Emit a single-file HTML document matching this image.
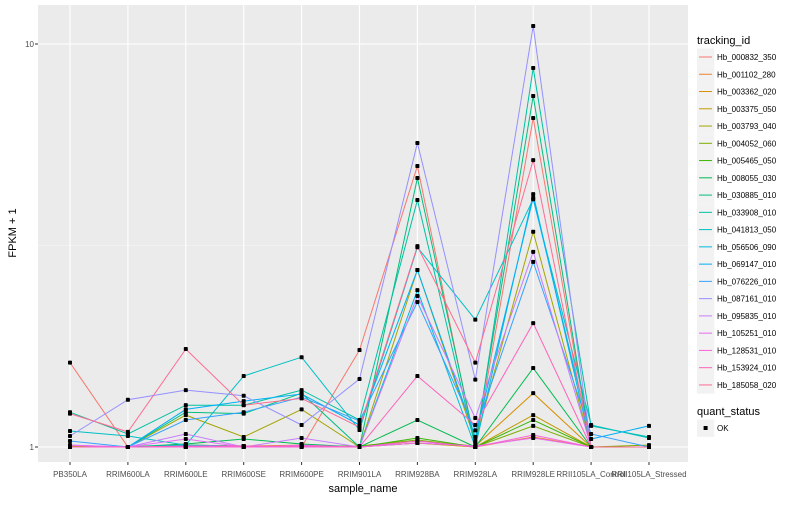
<!DOCTYPE html>
<html><head><meta charset="utf-8"><style>
body{margin:0;background:#fff;font-family:"Liberation Sans",sans-serif}
svg text{font-family:"Liberation Sans",sans-serif}
</style></head><body>
<svg id="chart" width="800" height="500" viewBox="0 0 800 500"></svg>
<script>
const categories=["PB350LA","RRIM600LA","RRIM600LE","RRIM600SE","RRIM600PE","RRIM901LA","RRIM928BA","RRIM928LA","RRIM928LE","RRII105LA_Control","RRII105LA_Stressed"];
const seriesNames=["Hb_000832_350","Hb_001102_280","Hb_003362_020","Hb_003375_050","Hb_003793_040","Hb_004052_060","Hb_005465_050","Hb_008055_030","Hb_030885_010","Hb_033908_010","Hb_041813_050","Hb_056506_090","Hb_069147_010","Hb_076226_010","Hb_087161_010","Hb_095835_010","Hb_105251_010","Hb_128531_010","Hb_153924_010","Hb_185058_020"];
const colors=["#F8766D","#EA8331","#D89000","#C09B00","#A3A500","#7CAE00","#39B600","#00BB4E","#00BF7D","#00C1A3","#00BFC4","#00BAE0","#00B0F6","#35A2FF","#9590FF","#C77CFF","#E76BF3","#FA62DB","#FF62BC","#FF6C91"];
const s01=[1.62,1,1,1,1,1.74,4.98,1,6.55,1,1];
const s02=[1,1,1,1,1,1,1.023,1,1.059,1,1];
const s03=[1,1,1,1,1,1,1.035,1.006,1.36,1,1];
const s04=[1,1,1.006,1.006,1.011,1,1.023,1,1.20,1,1];
const s05=[1.006,1,1.20,1.059,1.24,1,2.75,1.035,3.42,1,1];
const s06=[1,1,1.011,1.006,1.006,1.006,1.041,1,1.128,1,1.011];
const s07=[1,1,1.011,1.006,1.006,1,1.053,1,1.167,1,1];
const s08=[1,1,1.017,1.047,1.017,1,1.167,1,1.57,1,1];
const s09=[1,1,1.22,1.21,1.36,1,4.65,1.023,7.43,1,1];
const s10=[1.22,1.077,1.27,1.27,1.384,1.167,4.10,1,8.72,1.128,1.059];
const s11=[1.096,1.065,1.011,1.50,1.67,1.102,3.13,2.07,4.12,1.134,1.053];
const s12=[1,1,1.011,1.006,1.006,1,2.45,1,4.24,1,1];
const s13=[1,1,1.24,1.30,1.354,1.134,2.75,1.059,4.15,1.047,1.128];
const s14=[1.035,1,1.167,1.22,1.33,1.16,2.29,1.10,2.88,1.077,1];
const s15=[1.065,1.31,1.384,1.34,1.134,1.475,5.68,1.47,11.08,1,1];
const s16=[1.011,1,1.077,1,1.053,1,2.37,1.18,3.05,1,1];
const s17=[1.011,1,1.047,1,1.011,1,1.023,1.006,1.053,1,1];
const s18=[1,1,1,1,1,1,1.035,1,1.071,1,1];
const s19=[1,1,1.006,1.006,1.006,1,1.50,1.134,2.03,1,1];
const s20=[1.21,1.09,1.75,1.27,1.32,1.12,3.15,1.62,5.15,1,1];
const seriesValues=[s01,s02,s03,s04,s05,s06,s07,s08,s09,s10,s11,s12,s13,s14,s15,s16,s17,s18,s19,s20];
const yTickValues=[1,10];
const yTickLabels=["1","10"];

const NS="http://www.w3.org/2000/svg";
const svg=document.getElementById('chart');
const P={l:38,r:688,t:5,b:462};
const X0=70,DX=57.9;
function xs(i){return X0+i*DX;}
function ys(v){return 447-Math.log10(v)*403;}
function mk(tag,attrs,parent){const e=document.createElementNS(NS,tag);for(const k in attrs)e.setAttribute(k,attrs[k]);(parent||svg).appendChild(e);return e;}

const panel=mk('rect',{x:P.l,y:P.t,width:P.r-P.l,height:P.b-P.t,fill:'#EBEBEB'});


const minor=mk('line',{x1:P.l,x2:P.r,y1:ys(Math.sqrt(10)),y2:ys(Math.sqrt(10)),stroke:'#F7F7F7','stroke-width':0.6});


yTickValues.forEach((v,i)=>{
  const g=mk('line',{x1:P.l,x2:P.r,y1:ys(v),y2:ys(v),stroke:'#fff','stroke-width':1.1});
  
  
  const t=mk('text',{x:34,y:ys(v)+3,'text-anchor':'end','font-size':8,fill:'#4D4D4D'});
  t.textContent=yTickLabels[i];
  
  
  mk('line',{x1:35,x2:38,y1:ys(v),y2:ys(v),stroke:'#333','stroke-width':1});
});
categories.forEach((c,i)=>{
  const g=mk('line',{x1:xs(i),x2:xs(i),y1:P.t,y2:P.b,stroke:'#fff','stroke-width':1.1});
  
  
  mk('line',{x1:xs(i),x2:xs(i),y1:P.b,y2:P.b+3,stroke:'#333','stroke-width':1});
  const t=mk('text',{x:xs(i),y:477,'text-anchor':'middle','font-size':8,fill:'#4D4D4D'});
  t.textContent=c;
  
  
});
seriesValues.forEach((vals,si)=>{
  const d=vals.map((v,i)=>(i?'L':'M')+xs(i).toFixed(1)+','+ys(v).toFixed(1)).join('');
  const p=mk('path',{d:d,fill:'none',stroke:colors[si],'stroke-width':1});
  
  
});
seriesValues.forEach((vals,si)=>{
  vals.forEach((v,i)=>{
    const r=mk('rect',{x:xs(i)-2,y:ys(v)-2,width:4,height:4,rx:0.8,fill:'#000'});
    
    
  });
});
const yt=mk('text',{x:0,y:0,transform:'translate(16,233) rotate(-90)','text-anchor':'middle','font-size':11,fill:'#000'});
yt.textContent='FPKM + 1';


const xt=mk('text',{x:363,y:492,'text-anchor':'middle','font-size':11,fill:'#000'});
xt.textContent='sample_name';


const lt=mk('text',{x:697,y:44,'font-size':11,fill:'#000'});
lt.textContent='tracking_id';


seriesNames.forEach((n,i)=>{
  const y=57+i*17.26;
  const g=mk('g',{});
  
  
  mk('rect',{x:697,y:y-8.6,width:17.3,height:17.3,fill:'#F2F2F2'},g);
  mk('line',{x1:699,x2:712,y1:y,y2:y,stroke:colors[i],'stroke-width':1},g);
  const t=mk('text',{x:717,y:y+3,'font-size':8,fill:'#000'},g);
  t.textContent=n;
});
const qt=mk('text',{x:697,y:415,'font-size':11,fill:'#000'});
qt.textContent='quant_status';


const qg=mk('g',{});


mk('rect',{x:697,y:419.5,width:17.3,height:17.3,fill:'#F2F2F2'},qg);
mk('rect',{x:703.6,y:426,width:4,height:4,fill:'#000'},qg);
const qtt=mk('text',{x:717,y:431,'font-size':8,fill:'#000'},qg);
qtt.textContent='OK';
</script>
</body></html>
